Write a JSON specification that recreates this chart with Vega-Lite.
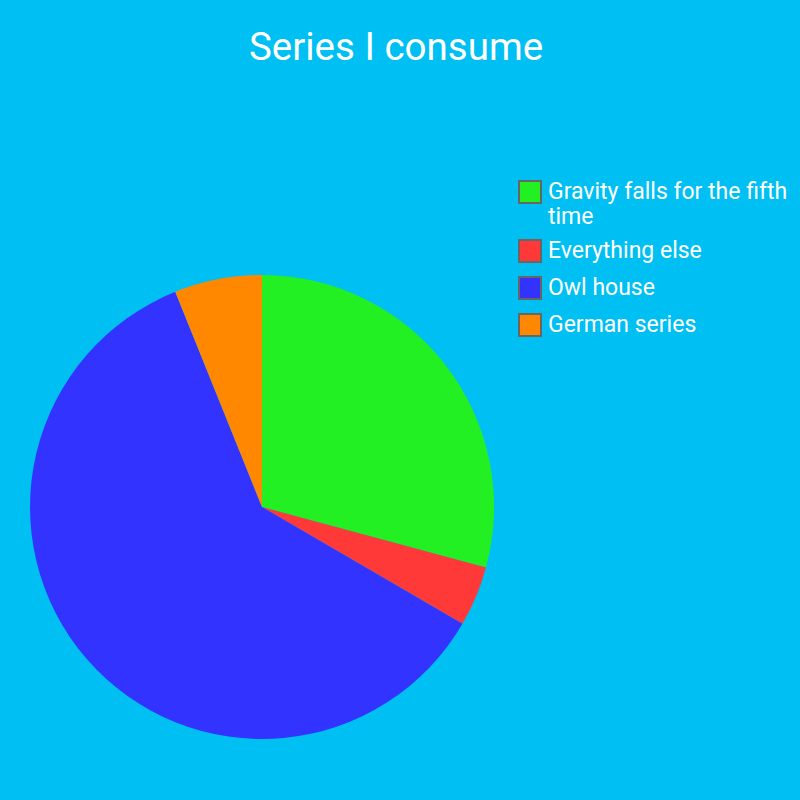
{
  "$schema": "https://vega.github.io/schema/vega-lite/v6.json",
  "autosize": "none",
  "width": 464,
  "height": 464,
  "padding": {"left": 30, "top": 275, "right": 306, "bottom": 61},
  "background": "#00c0f3",
  "config": {"view": {"stroke": null}, "font": "Roboto"},
  "title": {
    "text": "Series I consume",
    "fontSize": 38.5,
    "fontWeight": "normal",
    "color": "#ffffff",
    "anchor": "middle",
    "dx": 134,
    "offset": 112
  },
  "data": {
    "values": [
      {"series": "Gravity falls for the fifth time", "share": 29.2, "idx": 1},
      {"series": "Everything else", "share": 4.2, "idx": 2},
      {"series": "Owl house", "share": 60.5, "idx": 3},
      {"series": "German series", "share": 6.1, "idx": 4}
    ]
  },
  "mark": {"type": "arc", "outerRadius": 232},
  "encoding": {
    "theta": {"field": "share", "type": "quantitative", "stack": true},
    "order": {"field": "idx", "type": "quantitative"},
    "color": {
      "field": "series",
      "type": "nominal",
      "scale": {
        "domain": ["Gravity falls for the fifth time", "Everything else", "Owl house", "German series"],
        "range": ["#22f022", "#ff3838", "#3333ff", "#ff8800"]
      },
      "legend": {
        "title": null,
        "orient": "none",
        "legendX": 488,
        "legendY": -95,
        "symbolType": "square",
        "symbolSize": 484,
        "symbolStrokeColor": "#666666",
        "symbolStrokeWidth": 2,
        "symbolOpacity": 1,
        "labelFontSize": 23,
        "labelColor": "#ffffff",
        "labelFont": "Roboto",
        "labelLimit": 400,
        "labelOffset": 6,
        "rowPadding": 7,
        "labelExpr": "datum.label == 'Gravity falls for the fifth time' ? ['Gravity falls for the fifth', 'time'] : datum.label"
      }
    }
  }
}
